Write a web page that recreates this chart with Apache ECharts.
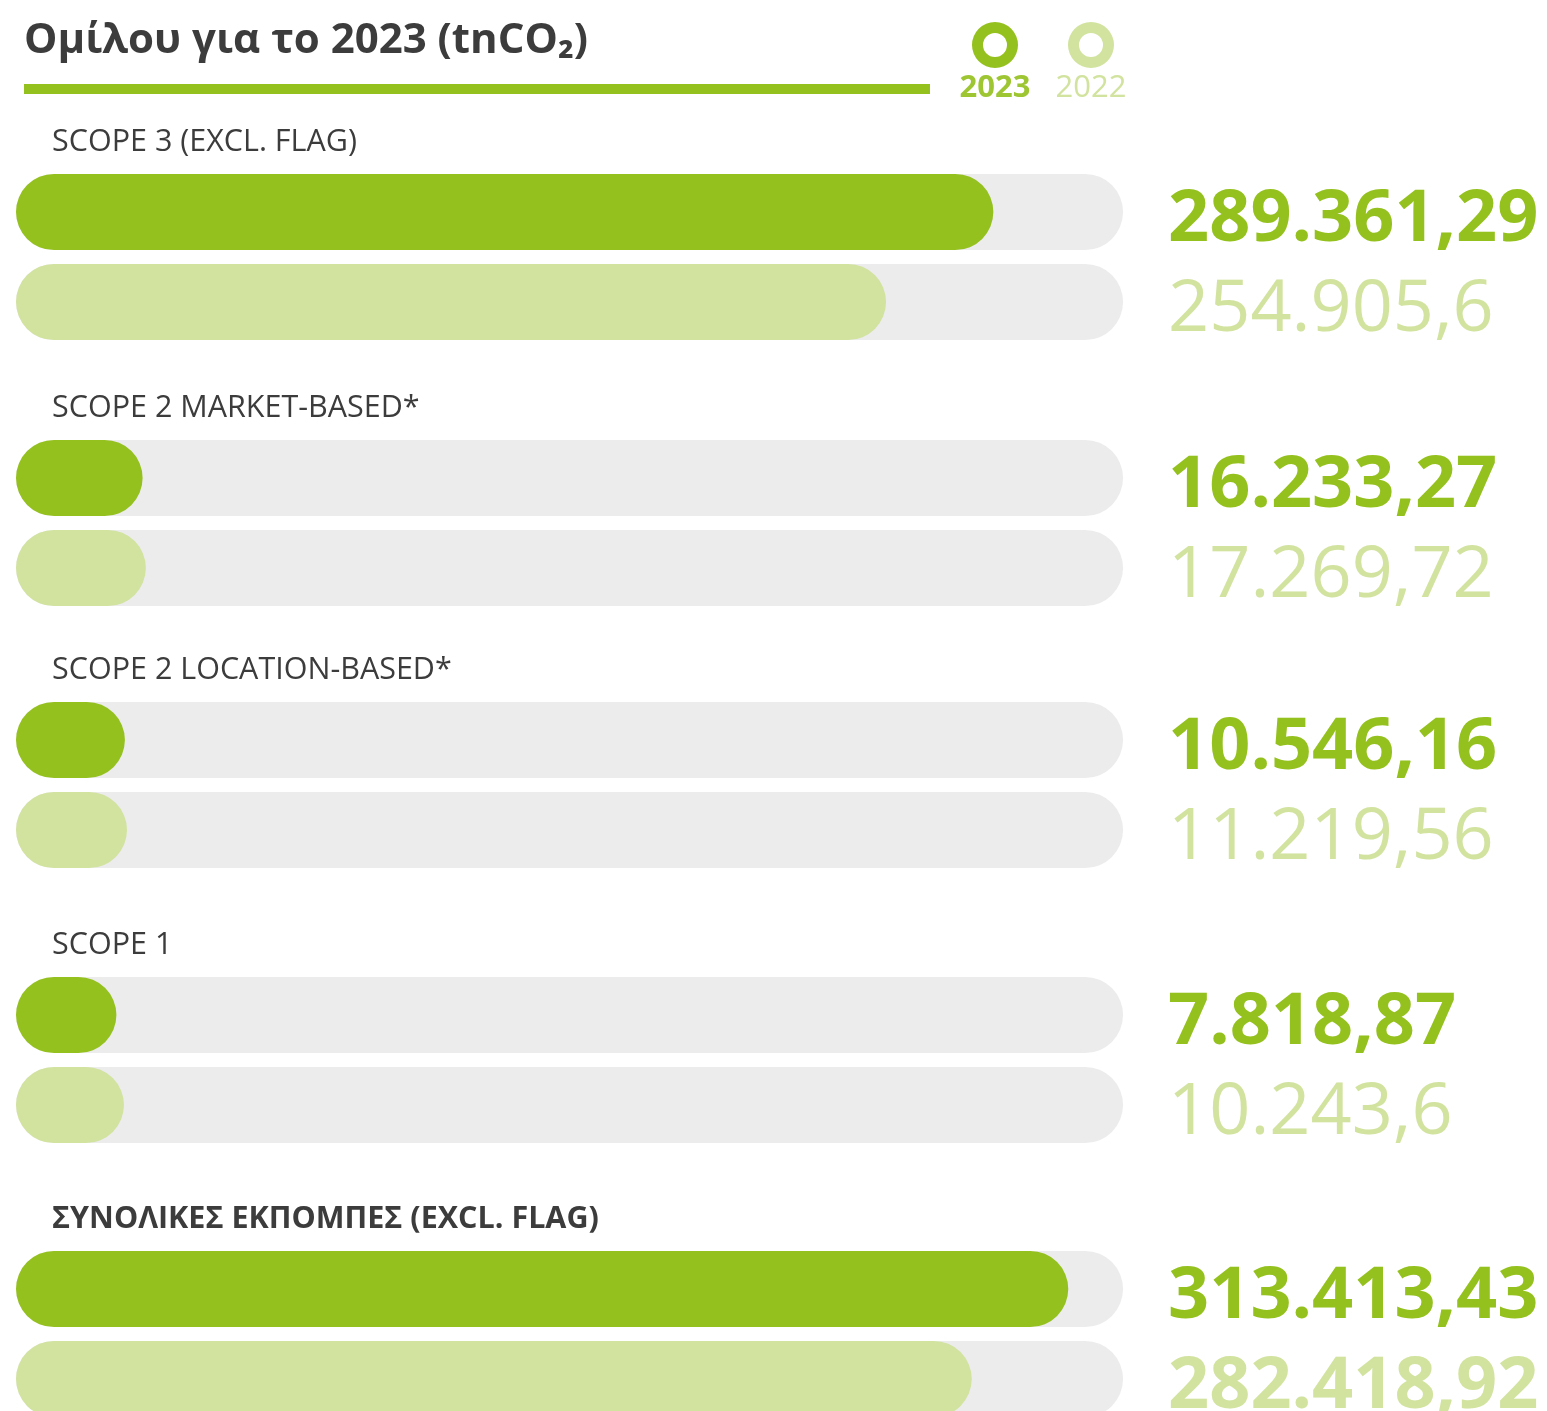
<!DOCTYPE html>
<html>
<head>
<meta charset="utf-8">
<script src="https://cdn.jsdelivr.net/npm/echarts@6/dist/echarts.min.js"></script>
<style>
  html, body { margin: 0; padding: 0; background: #ffffff; }
  #chart { width: 1547px; height: 1411px; }
</style>
</head>
<body>
<div id="chart"></div>
<script>
// Emission categories, top to bottom
const categories = [
  'SCOPE 3 (EXCL. FLAG)',
  'SCOPE 2 MARKET-BASED*',
  'SCOPE 2 LOCATION-BASED*',
  'SCOPE 1',
  'ΣΥΝΟΛΙΚΕΣ ΕΚΠΟΜΠΕΣ (EXCL. FLAG)'
];
// Emissions in tnCO2
const values2023 = [289361.29, 16233.27, 10546.16, 7818.87, 313413.43];
const values2022 = [254905.6, 17269.72, 11219.56, 10243.6, 282418.92];
const years = ['2023', '2022'];
const titleText = 'Ομίλου για το 2023 (tnCO₂)';

const AXIS_MAX = 331000;
const DARK = '#95c11f';
const LIGHT = '#d1e39f';
const TRACK = '#ececec';
const TEXT = '#3c3c3c';
const FONT = '"Open Sans", "Noto Sans", sans-serif';

// Vertical centre of each group's first (2023) pill
const groupCenters = [212, 478, 740, 1015, 1289];
const BAND = 90;

// Greek number format: "." thousands, "," decimals
function fmt(v) {
  const parts = String(v).split('.');
  const intPart = parts[0].replace(/\B(?=(\d{3})+(?!\d))/g, '.');
  return parts.length > 1 ? intPart + ',' + parts[1] : intPart;
}

// Track pill, value pill (round caps add one pill height) and value text
function renderPill(params, api) {
  const v = api.value(0);
  const c = api.value(1);
  const start = api.coord([0, c]);
  const end = api.coord([v, c]);
  const full = api.coord([AXIS_MAX, c]);
  const h = api.size([0, 1])[1] * 0.845;
  const y = start[1] - h / 2;
  const isTotal = params.seriesIndex === categories.length - 1;
  const color = c === 0 ? DARK : LIGHT;
  const bold = c === 0 || isTotal;
  return {
    type: 'group',
    children: [
      { type: 'rect', shape: { x: start[0], y: y, width: full[0] - start[0] + h, height: h, r: h / 2 },
        style: { fill: TRACK } },
      { type: 'rect', shape: { x: start[0], y: y, width: end[0] - start[0] + h, height: h, r: h / 2 },
        style: { fill: color } },
      { type: 'text', x: full[0] + h + 45, y: start[1] + 8,
        style: { text: fmt(v), fill: color, font: (bold ? 'bold ' : '') + '72px ' + FONT,
                 align: 'left', verticalAlign: 'middle' } }
    ]
  };
}

const grids = [], xAxes = [], yAxes = [], series = [], graphics = [];
categories.forEach((cat, i) => {
  const top = groupCenters[i] - BAND / 2;
  grids.push({ left: 16, width: 1031, top: top, height: BAND * 2, outerBoundsMode: 'none', containLabel: false });
  xAxes.push({ gridIndex: i, type: 'value', min: 0, max: AXIS_MAX, show: false });
  yAxes.push({ gridIndex: i, type: 'category', data: years, inverse: true, show: false });
  series.push({
    type: 'custom', xAxisIndex: i, yAxisIndex: i, renderItem: renderPill, clip: false,
    data: [[values2023[i], 0], [values2022[i], 1]], silent: true
  });
  graphics.push({
    type: 'text', x: 52, y: groupCenters[i] - 70,
    style: { text: cat, fill: TEXT, font: (i === categories.length - 1 ? 'bold ' : '') + '30.5px ' + FONT,
             verticalAlign: 'middle' }
  });
});

// Title, underline and legend
graphics.push(
  { type: 'text', x: 24, y: 41, style: { text: titleText, fill: TEXT, font: 'bold 42px ' + FONT, verticalAlign: 'middle' } },
  { type: 'rect', shape: { x: 24, y: 84, width: 906, height: 10 }, style: { fill: DARK } },
  { type: 'ring', shape: { cx: 995, cy: 45, r: 23, r0: 12 }, style: { fill: DARK } },
  { type: 'ring', shape: { cx: 1091, cy: 45, r: 23, r0: 12 }, style: { fill: LIGHT } },
  { type: 'text', x: 995, y: 88, style: { text: years[0], fill: '#9ec633', font: 'bold 31px ' + FONT, align: 'center', verticalAlign: 'middle' } },
  { type: 'text', x: 1091, y: 88, style: { text: years[1], fill: LIGHT, font: '31px ' + FONT, align: 'center', verticalAlign: 'middle' } }
);

const chart = echarts.init(document.getElementById('chart'), null, { renderer: 'canvas' });
chart.setOption({
  animation: false,
  backgroundColor: '#ffffff',
  grid: grids,
  xAxis: xAxes,
  yAxis: yAxes,
  series: series,
  graphic: graphics
});
</script>
</body>
</html>
